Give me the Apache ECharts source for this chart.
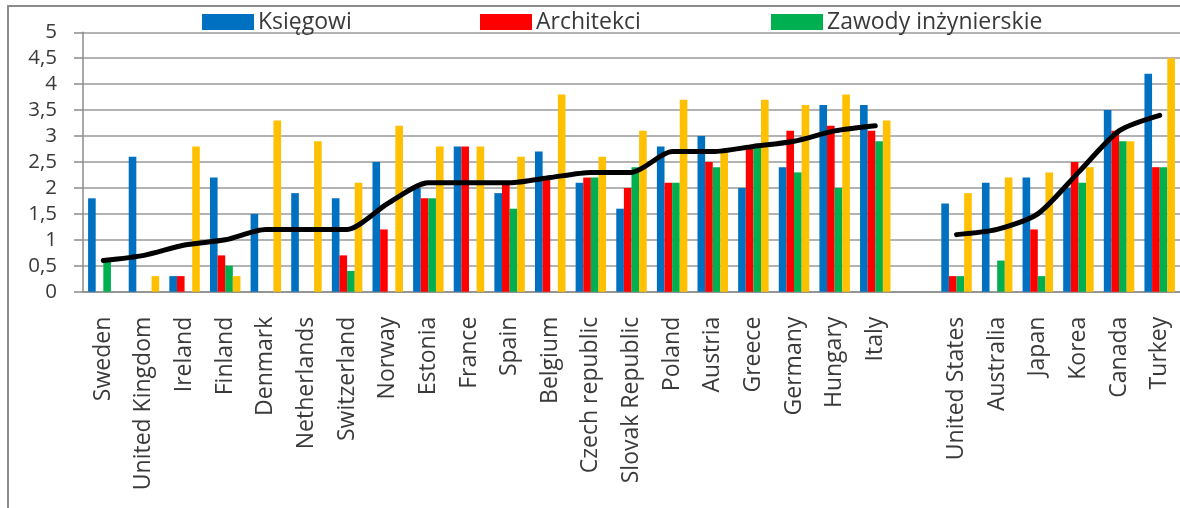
<!DOCTYPE html>
<html>
<head>
<meta charset="utf-8">
<script src="https://cdn.jsdelivr.net/npm/echarts@6/dist/echarts.min.js"></script>
<style>
html,body{margin:0;padding:0;background:#fff;}
#chart{width:1180px;height:508px;}
</style>
</head>
<body>
<div id="chart"></div>
<script>
var categories = ['Sweden','United Kingdom','Ireland','Finland','Denmark','Netherlands','Switzerland','Norway','Estonia','France','Spain','Belgium','Czech republic','Slovak Republic','Poland','Austria','Greece','Germany','Hungary','Italy','','United States','Australia','Japan','Korea','Canada','Turkey'];
var ksiegowi   = [1.8,2.6,0.3,2.2,1.5,1.9,1.8,2.5,2.0,2.8,1.9,2.7,2.1,1.6,2.8,3.0,2.0,2.4,3.6,3.6,null,1.7,2.1,2.2,2.0,3.5,4.2];
var architekci = [0,0,0.3,0.7,0,0,0.7,1.2,1.8,2.8,2.1,2.2,2.2,2.0,2.1,2.5,2.8,3.1,3.2,3.1,null,0.3,0,1.2,2.5,3.1,2.4];
var inzynierowie = [0.6,0,0,0.5,0,0,0.4,0,1.8,0,1.6,0,2.2,2.4,2.1,2.4,2.8,2.3,2.0,2.9,null,0.3,0.6,0.3,2.1,2.9,2.4];
var seria4     = [0,0.3,2.8,0.3,3.3,2.9,2.1,3.2,2.8,2.8,2.6,3.8,2.6,3.1,3.7,2.7,3.7,3.6,3.8,3.3,null,1.9,2.2,2.3,2.4,2.9,4.5];
var srednia    = [0.6,0.7,0.9,1.0,1.2,1.2,1.2,1.7,2.1,2.1,2.1,2.2,2.3,2.3,2.7,2.7,2.8,2.9,3.1,3.2,null,1.1,1.2,1.5,2.3,3.1,3.4];
var seriesNames = ['Księgowi','Architekci','Zawody inżynierskie','Seria 4','Średnia'];

var FONT = 'Open Sans';
var TXT = '#3a3a3a';
var chart = echarts.init(document.getElementById('chart'));

function legendAt(name, left) {
  return {
    data: [name], left: left, top: 10.5, itemWidth: 52, itemHeight: 16, itemGap: 0,
    padding: 0, icon: 'rect', selectedMode: false,
    textStyle: {fontFamily: FONT, fontSize: 23, color: TXT, lineHeight: 23, padding: [0,0,0,-1]}
  };
}

chart.setOption({
  animation: false,
  backgroundColor: '#fff',
  graphic: [{
    type: 'rect', shape: {x: 8, y: 6, width: 1200, height: 540},
    style: {fill: 'none', stroke: '#8c8c8c', lineWidth: 2}, z: 100, silent: true
  }],
  legend: [legendAt(seriesNames[0], 202), legendAt(seriesNames[1], 480), legendAt(seriesNames[2], 771)],
  grid: {left: 83, top: 32.3, width: 1102, height: 259.4, containLabel: false},
  xAxis: {
    type: 'category', data: categories,
    axisLine: {lineStyle: {color: '#8c8c8c', width: 1.5}},
    axisTick: {length: 9, lineStyle: {color: '#8c8c8c', width: 1.5}},
    axisLabel: {rotate: 90, interval: 0, margin: 25, fontFamily: FONT, fontSize: 23, color: TXT}
  },
  yAxis: {
    type: 'value', min: 0, max: 5, interval: 0.5,
    axisLine: {show: true, lineStyle: {color: '#8c8c8c', width: 1.5}},
    axisTick: {show: true, length: 9, lineStyle: {color: '#8c8c8c', width: 1.5}},
    splitLine: {lineStyle: {color: '#9a9a9a', width: 1.5}},
    axisLabel: {margin: 26, fontFamily: FONT, fontSize: 20.5, color: TXT,
      formatter: function (v) { return String(v).replace('.', ','); }}
  },
  series: [
    {name: seriesNames[0], type: 'bar', data: ksiegowi, barGap: '0%', barCategoryGap: '25%', itemStyle: {color: '#0070C0'}},
    {name: seriesNames[1], type: 'bar', data: architekci, itemStyle: {color: '#FF0000'}},
    {name: seriesNames[2], type: 'bar', data: inzynierowie, itemStyle: {color: '#00B050'}},
    {name: seriesNames[3], type: 'bar', data: seria4, itemStyle: {color: '#FFC000'}},
    {name: seriesNames[4], type: 'line', data: srednia, smooth: 0.25, connectNulls: false,
      symbol: 'none', z: 10, lineStyle: {color: '#000', width: 5, cap: 'round', join: 'round'}}
  ]
});
</script>
</body>
</html>
